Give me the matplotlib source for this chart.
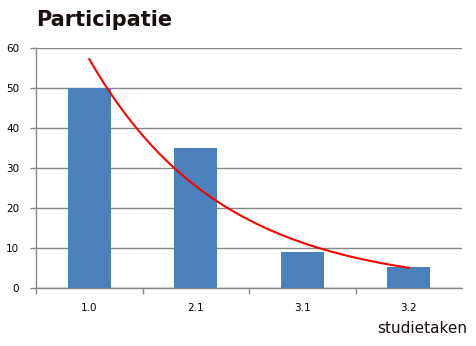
import numpy as np
import matplotlib
matplotlib.use('Agg')
import matplotlib.pyplot as plt

# data
categories = ['1.0', '2.1', '3.1', '3.2']
participation = [50, 35, 9, 5.3]

fig = plt.figure(figsize=(4.77, 3.46), dpi=100)
ax = fig.add_axes([0.0755, 0.1676, 0.8931, 0.6937])

x = np.arange(len(categories))
ax.bar(x, participation, width=0.4, color='#4a81bd', zorder=3)

# exponential trendline (least squares on log values, like Excel)
b, a = np.polyfit(x, np.log(participation), 1)
xs = np.linspace(x[0], x[-1], 200)
ax.plot(xs, np.exp(a + b * xs), color='#ff0000', lw=1.5, zorder=4)

ax.set_xlim(-0.5, len(categories) - 0.5)
ax.set_ylim(0, 60)
ax.set_yticks(range(0, 61, 10))
ax.yaxis.grid(True, color='#868686', lw=1)
ax.set_axisbelow(True)

# ticks on the category boundaries, labels in the middle
ax.set_xticks(np.arange(len(categories)) - 0.5)
ax.set_xticklabels([])
ax.set_xticks(x, minor=True)
ax.set_xticklabels(categories, minor=True)
ax.tick_params(axis='x', which='major', length=4, color='#868686', width=1)
ax.tick_params(axis='x', which='minor', length=0, pad=11, labelsize=7.5)
ax.tick_params(axis='y', length=4, color='#868686', width=1, pad=8, labelsize=7.5)

for side in ['top', 'right']:
    ax.spines[side].set_visible(False)
for side in ['left', 'bottom']:
    ax.spines[side].set_color('#868686')
    ax.spines[side].set_linewidth(1)

fig.text(36 / 477, 1 - 26 / 346, 'Participatie', fontsize=15, fontweight='heavy',
         color='#1a0d0d', ha='left', va='baseline')
fig.text(467 / 477, 1 - 333 / 346, 'studietaken', fontsize=11,
         color='#1a0d0d', ha='right', va='baseline')

fig.savefig('out.png', dpi=100)
